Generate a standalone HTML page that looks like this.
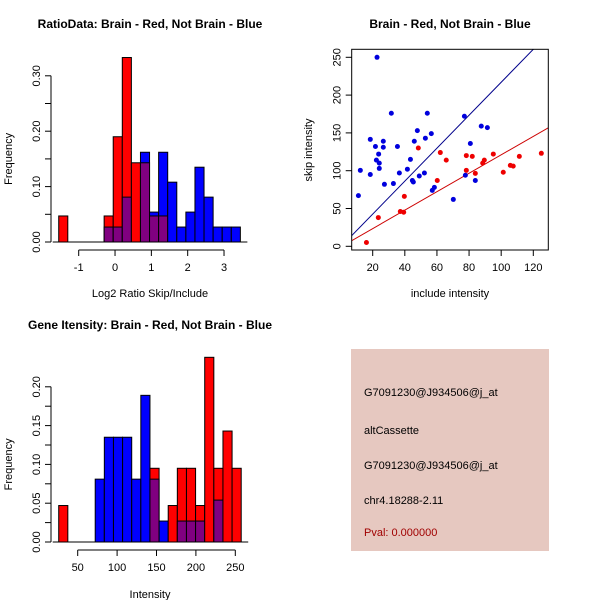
<!DOCTYPE html>
<html><head><meta charset="utf-8"><style>
body{margin:0;background:#fff}
svg{display:block;font-family:"Liberation Sans",sans-serif}
</style></head><body>
<svg id="s" width="600" height="600" xmlns="http://www.w3.org/2000/svg">
<rect width="600" height="600" fill="#fff"/>
<text x="150" y="28" font-size="12" font-weight="bold" text-anchor="middle">RatioData: Brain - Red, Not Brain - Blue</text>
<text x="450" y="28" font-size="12" font-weight="bold" text-anchor="middle">Brain - Red, Not Brain - Blue</text>
<text x="150" y="329" font-size="12" font-weight="bold" text-anchor="middle">Gene Itensity: Brain - Red, Not Brain - Blue</text>
<g>
<rect x="351" y="349" width="198" height="202" fill="#e6c8c0"/>
<text x="364" y="396" font-size="11">G7091230@J934506@j_at</text>
<text x="364" y="434" font-size="11">altCassette</text>
<text x="364" y="469" font-size="11">G7091230@J934506@j_at</text>
<text x="364" y="504" font-size="11">chr4.18288-2.11</text>
<text x="364" y="536" font-size="11" fill="#a00000">Pval: 0.000000</text>
</g>
</svg>
<script>
// Histogram 1 data
const ratioRed=[0.047,0,0,0,0,0.047,0.19,0.333,0.143,0.143,0.047,0.047,0,0,0,0,0,0,0,0];
const ratioBlue=[0,0,0,0,0,0.027,0.027,0.081,0,0.162,0.054,0.162,0.108,0.027,0.054,0.135,0.081,0.027,0.027,0.027];
const ratioYTicks=["0.00","0.10","0.20","0.30"];
const ratioXTicks=["-1","0","1","2","3"];
// Histogram 2 data
const intRed=[0.047,0,0,0,0,0,0,0,0,0,0.095,0,0.047,0.095,0.095,0.047,0.238,0.095,0.143,0.095];
const intBlue=[0,0,0,0,0.081,0.135,0.135,0.135,0.081,0.189,0.081,0.027,0,0.027,0.027,0.027,0,0.054,0,0];
const intYTicks=["0.00","0.05","0.10","0.15","0.20"];
const intXTicks=["50","100","150","200","250"];
// Scatter data
const blueX=[11.1,12.3,18.5,18.5,22.7,21.7,22.3,23.7,24.1,24.1,26.6,26.6,27.3,31.6,32.9,35.4,36.6,41.6,43.5,44.7,45.3,45.9,47.8,49,52.8,52.2,54,56.5,57.1,58.4,70.2,77.1,77.7,80.8,83.9,87.6,91.4];
const blueY=[67,100.5,141.5,95,250,132,114,122,110,103,139,131,82,176,83,132,97,102,115,87,85,139,153,93,143,97,176,149,74,78,62,172,94,136,87,159,157];
const redX=[16.1,23.5,37.2,39.3,39.7,48.4,60.2,62.1,65.8,78.3,78.3,82,83.9,88.5,89.5,95.1,101.3,105.7,107.5,111.3,125];
const redY=[5,38,46,45,66,130,87,124,114,120,100.5,119,96.5,110,114,122,98,107,106,119,123];
const scXTicks=["20","40","60","80","100","120"];
const scYTicks=["0","50","100","150","200","250"];
const blueFit=[-1.0,2.18];
const redFit=[-1.0,1.22];

const svg=document.getElementById('s');
const NS='http://www.w3.org/2000/svg';
function mk(tag,attrs,parent){const e=document.createElementNS(NS,tag);for(const k in attrs)e.setAttribute(k,attrs[k]);(parent||svg).appendChild(e);return e;}
function txt(x,y,s,attrs){const e=mk('text',Object.assign({x:x,y:y,'font-size':11},attrs||{}));e.textContent=s;return e;}

function hist(red,blue,x0,bw,xs,ys,yTicks,yStep,xTicks,xTickVals,yAxisX,xAxisY,xlab,xlabY,pfx){
  const g=mk('g',{});
  
  
  for(let i=0;i<red.length;i++){
    const xl=xs(x0+i*bw), xr=xs(x0+(i+1)*bw);
    const r=red[i],b=blue[i],mx=Math.max(r,b),mn=Math.min(r,b);
    if(mx<=0)continue;
    const col=r>=b?'#ff0000':'#0000ff';
    const e=mk('rect',{x:xl,y:ys(mx),width:xr-xl,height:ys(0)-ys(mx),fill:col,stroke:'#000','stroke-width':1},g);
    
    
    if(mn>0){
      const p=mk('rect',{x:xl,y:ys(mn),width:xr-xl,height:ys(0)-ys(mn),fill:'#800080',stroke:'#000','stroke-width':1},g);
      
      
    }
  }
  // baseline
  mk('line',{x1:xs(x0)-6,x2:xs(x0+red.length*bw)+7,y1:ys(0),y2:ys(0),stroke:'#000'},g);
  // y axis
  const yTop=ys((yTicks.length-1)*yStep);
  mk('line',{x1:yAxisX,x2:yAxisX,y1:ys(0),y2:yTop,stroke:'#000'},g);
  yTicks.forEach((t,i)=>{const y=ys(i*yStep);mk('line',{x1:yAxisX-6,x2:yAxisX,y1:y,y2:y,stroke:'#000'},g);
    const e=txt(yAxisX-11,y,t,{transform:`rotate(-90 ${yAxisX-11} ${y})`,'text-anchor':'middle'});g.appendChild(e);
    });
  for(let i=0;i<yTicks.length-1;i++){const y=ys((i+0.5)*yStep);mk('line',{x1:yAxisX-6,x2:yAxisX,y1:y,y2:y,stroke:'#000'},g);}
  // x axis
  mk('line',{x1:xs(xTickVals[0]),x2:xs(xTickVals[xTickVals.length-1]),y1:xAxisY,y2:xAxisY,stroke:'#000'},g);
  xTicks.forEach((t,i)=>{const x=xs(xTickVals[i]);mk('line',{x1:x,x2:x,y1:xAxisY,y2:xAxisY+6,stroke:'#000'},g);
    const e=txt(x,xAxisY+21,t,{'text-anchor':'middle'});g.appendChild(e);
    });
  const xl=txt(150,xlabY,xlab,{'text-anchor':'middle','font-size':11});g.appendChild(xl);
  
  const ym=(ys(0)+yTop)/2;
  const yl=txt(12,ym,'Frequency',{'text-anchor':'middle',transform:`rotate(-90 12 ${ym})`});g.appendChild(yl);
  
}

// top-left
hist(ratioRed,ratioBlue,-1.55,0.25,v=>78.7+(v+1)*36.33,v=>242-v*554,ratioYTicks,0.1,ratioXTicks,[-1,0,1,2,3],51,250,'Log2 Ratio Skip/Include',297,'ratio');
// bottom-left
hist(intRed,intBlue,25.9,11.58,v=>77.7+(v-50)*0.788,v=>542-v*776,intYTicks,0.05,intXTicks,[50,100,150,200,250],51,550,'Intensity',598,'intensity');

// scatter
(function(){
  const g=mk('g',{});
  
  
  const xs=v=>372.7+(v-20)*1.606, ys=v=>246.3-v*0.756;
  const L=351.7,R=548.3,T=49.3,B=250;
  mk('defs',{},g).innerHTML='<clipPath id="cp"><rect x="351.7" y="49.3" width="196.6" height="200.7"/></clipPath>';
  const bx0=6.9,bx1=130;
  const bl=mk('line',{x1:xs(bx0),y1:ys(blueFit[0]+blueFit[1]*bx0),x2:xs(bx1),y2:ys(blueFit[0]+blueFit[1]*bx1),stroke:'#00008b','clip-path':'url(#cp)'},g);
  
  const rl=mk('line',{x1:xs(bx0),y1:ys(redFit[0]+redFit[1]*bx0),x2:xs(bx1),y2:ys(redFit[0]+redFit[1]*bx1),stroke:'#cd0000','clip-path':'url(#cp)'},g);
  
  blueX.forEach((x,i)=>{const c=mk('circle',{cx:xs(x),cy:ys(blueY[i]),r:2.5,fill:'#0000dd'},g);
    });
  redX.forEach((x,i)=>{const c=mk('circle',{cx:xs(x),cy:ys(redY[i]),r:2.5,fill:'#ee0000'},g);
    });
  mk('rect',{x:L,y:T,width:R-L,height:B-T,fill:'none',stroke:'#000'},g);
  scXTicks.forEach(t=>{const x=xs(+t);mk('line',{x1:x,x2:x,y1:B,y2:B+6,stroke:'#000'},g);
    const e=txt(x,B+21,t,{'text-anchor':'middle'});g.appendChild(e);
    });
  scYTicks.forEach(t=>{const y=ys(+t);mk('line',{x1:L-6,x2:L,y1:y,y2:y,stroke:'#000'},g);
    const e=txt(L-11,y,t,{'text-anchor':'middle',transform:`rotate(-90 ${L-11} ${y})`});g.appendChild(e);
    });
  const xl=txt(450,297,'include intensity',{'text-anchor':'middle'});g.appendChild(xl);
  
  const yl=txt(312,150,'skip intensity',{'text-anchor':'middle',transform:'rotate(-90 312 150)'});g.appendChild(yl);
  
})();
</script>
</body></html>
